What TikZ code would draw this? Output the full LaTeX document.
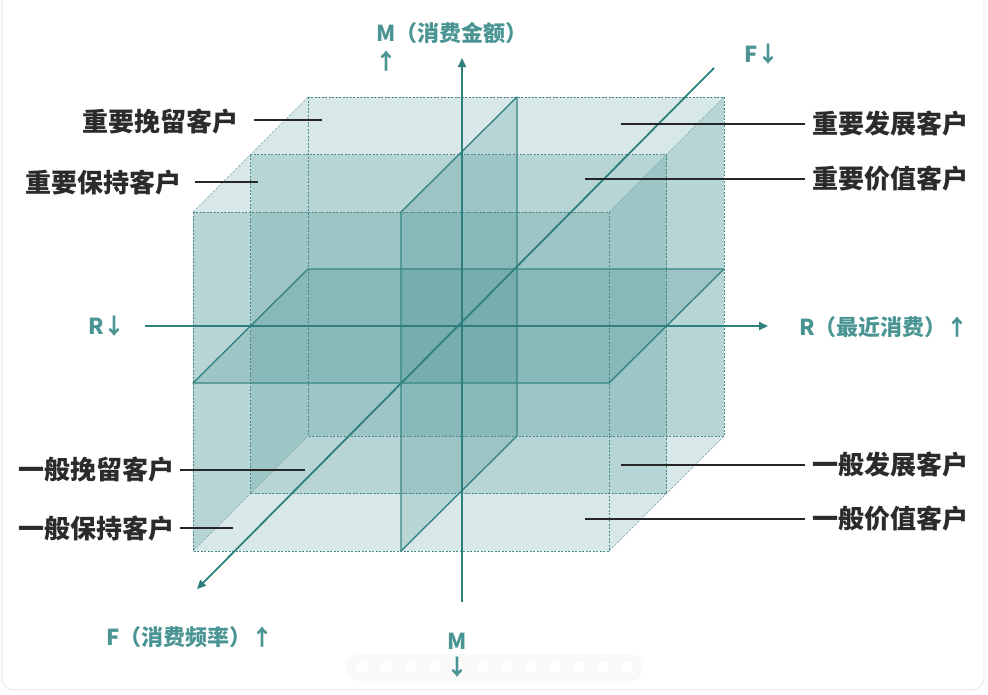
\documentclass[tikz,border=0pt]{standalone}
\usepackage{fontspec}
\newfontfamily\cjk{Noto Sans CJK SC}
\usetikzlibrary{arrows.meta,calc}
\definecolor{facec}{HTML}{2A8080}
\definecolor{axisc}{HTML}{2F7F7F}
\definecolor{labc}{HTML}{4A9593}
\definecolor{edgec}{HTML}{4A8888}
\definecolor{diagc}{HTML}{8AB1B1}
\definecolor{planec}{HTML}{378585}
\definecolor{leadc}{HTML}{262626}
\definecolor{txtc}{HTML}{2B2B2B}
\begin{document}
\begin{tikzpicture}[x=1pt,y=-1pt,
  face/.style={fill=facec, fill opacity=0.18, draw=none},
  dashedge/.style={draw=edgec, line width=0.9pt, dash pattern=on 2pt off 1.5pt},
  diagedge/.style={draw=diagc, line width=0.7pt, dash pattern=on 2.5pt off 1.5pt},
  planeedge/.style={draw=planec, line width=1.4pt, line join=round},
  axisline/.style={draw=axisc, line width=1.8pt},
  axisarrow/.style={axisline, -{Triangle[length=9pt,width=8pt]}},
  leader/.style={draw=leadc, line width=2.3pt},
  lbl/.style={font=\cjk\bfseries\fontsize{26}{30}\selectfont, text=txtc, inner sep=0pt},
  axlbl/.style={font=\cjk\bfseries\fontsize{22}{26}\selectfont, text=labc, inner sep=0pt},
]
\useasboundingbox (0,0) rectangle (988,694);
\clip (0,0) rectangle (988,694);
\fill[white] (0,0) rectangle (988,694);
\draw[black!7, line width=1.2pt, rounded corners=12pt] (2,-30) rectangle (984,690);

% cube corners
\coordinate (A0) at (193,212); \coordinate (B0) at (609,212);
\coordinate (C0) at (609,551); \coordinate (D0) at (193,551);
\coordinate (A1) at (250.5,154.5); \coordinate (B1) at (666.5,154.5);
\coordinate (C1) at (666.5,493.5); \coordinate (D1) at (250.5,493.5);
\coordinate (A2) at (308,97); \coordinate (B2) at (724,97);
\coordinate (C2) at (724,436); \coordinate (D2) at (308,436);
% vertical plane
\coordinate (V1) at (401,212); \coordinate (V2) at (517,97);
\coordinate (V3) at (517,436); \coordinate (V4) at (401,551);
% horizontal plane
\coordinate (H1) at (193,383); \coordinate (H2) at (609,383);
\coordinate (H3) at (724,269); \coordinate (H4) at (308,269);

% translucent faces
\fill[face] (A2) rectangle (C2);
\fill[face] (A1) rectangle (C1);
\fill[face] (A0) -- (A2) -- (D2) -- (D0) -- cycle;
\fill[face] (B0) -- (B2) -- (C2) -- (C0) -- cycle;
\fill[face] (V1) -- (V2) -- (V3) -- (V4) -- cycle;
\fill[face] (H1) -- (H2) -- (H3) -- (H4) -- cycle;
\fill[face] (A0) rectangle (C0);

% edges
\draw[diagedge] (A0) -- (A2);
\draw[diagedge] (B0) -- (B2);
\draw[diagedge] (C0) -- (C2);
\draw[diagedge] (D0) -- (D2);
\draw[dashedge] (A2) rectangle (C2);
\draw[dashedge] (A1) rectangle (C1);
\draw[dashedge] (A0) rectangle (C0);
\draw[planeedge] (V1) -- (V2) -- (V3) -- (V4) -- cycle;
\draw[planeedge] (H1) -- (H2) -- (H3) -- (H4) -- cycle;

% axes
\coordinate (Mbot) at (462,602); \coordinate (Mtop) at (462,58);
\coordinate (Rl) at (145,326); \coordinate (Rr) at (768,326);
\coordinate (Ftr) at (714,68); \coordinate (Fbl) at (197,589);
\draw[axisarrow] (Mbot) -- (Mtop);
\draw[axisarrow] (Rl) -- (Rr);
\draw[axisarrow] (Ftr) -- (Fbl);

% carousel dots
\fill[black!2.5, rounded corners=13pt] (346,654) rectangle (643,681);
\foreach \i in {0,...,11} \fill[white] ({362+24.1*\i},667) circle (6pt);

% axis labels
\node[axlbl, anchor=west] (Mlab) at (376,33) {M（消费金额）};
\node[axlbl] (Mup) at (386,61) {↑};
\node[axlbl, anchor=west] (Fdn) at (744,54) {F↓};
\node[axlbl, anchor=west] (Rdn) at (88,326) {R↓};
\node[axlbl, anchor=west] (Rup) at (799,327) {R（最近消费）↑};
\node[axlbl, anchor=west] (Fup) at (106,637) {F（消费频率）↑};
\node[axlbl] (Mb) at (457,641) {M};
\node[axlbl] (Mdn) at (457,667) {↓};

% segment labels
\node[lbl, anchor=west] (L1) at (82,122) {重要挽留客户};
\node[lbl, anchor=west] (L2) at (25,183) {重要保持客户};
\node[lbl, anchor=west] (L3) at (18,470) {一般挽留客户};
\node[lbl, anchor=west] (L4) at (18,529) {一般保持客户};
\node[lbl, anchor=west] (R1) at (812,124) {重要发展客户};
\node[lbl, anchor=west] (R2) at (812,179) {重要价值客户};
\node[lbl, anchor=west] (R3) at (812,465) {一般发展客户};
\node[lbl, anchor=west] (R4) at (812,519) {一般价值客户};

\coordinate (p1) at (322,120);
\coordinate (p2) at (258,182);
\coordinate (p3) at (305,470);
\coordinate (p4) at (233,528);
\coordinate (q1) at (621,124);
\coordinate (q2) at (585,179);
\coordinate (q3) at (621,465);
\coordinate (q4) at (585,519);
\draw[leader] ($(L1.east|-p1)+(16,0)$) -- (p1);
\draw[leader] ($(L2.east|-p2)+(14,0)$) -- (p2);
\draw[leader] ($(L3.east|-p3)+(6,0)$) -- (p3);
\draw[leader] ($(L4.east|-p4)+(6,0)$) -- (p4);
\draw[leader] (q1) -- ($(R1.west|-q1)+(-7,0)$);
\draw[leader] (q2) -- ($(R2.west|-q2)+(-7,0)$);
\draw[leader] (q3) -- ($(R3.west|-q3)+(-7,0)$);
\draw[leader] (q4) -- ($(R4.west|-q4)+(-7,0)$);
\end{tikzpicture}
\end{document}
